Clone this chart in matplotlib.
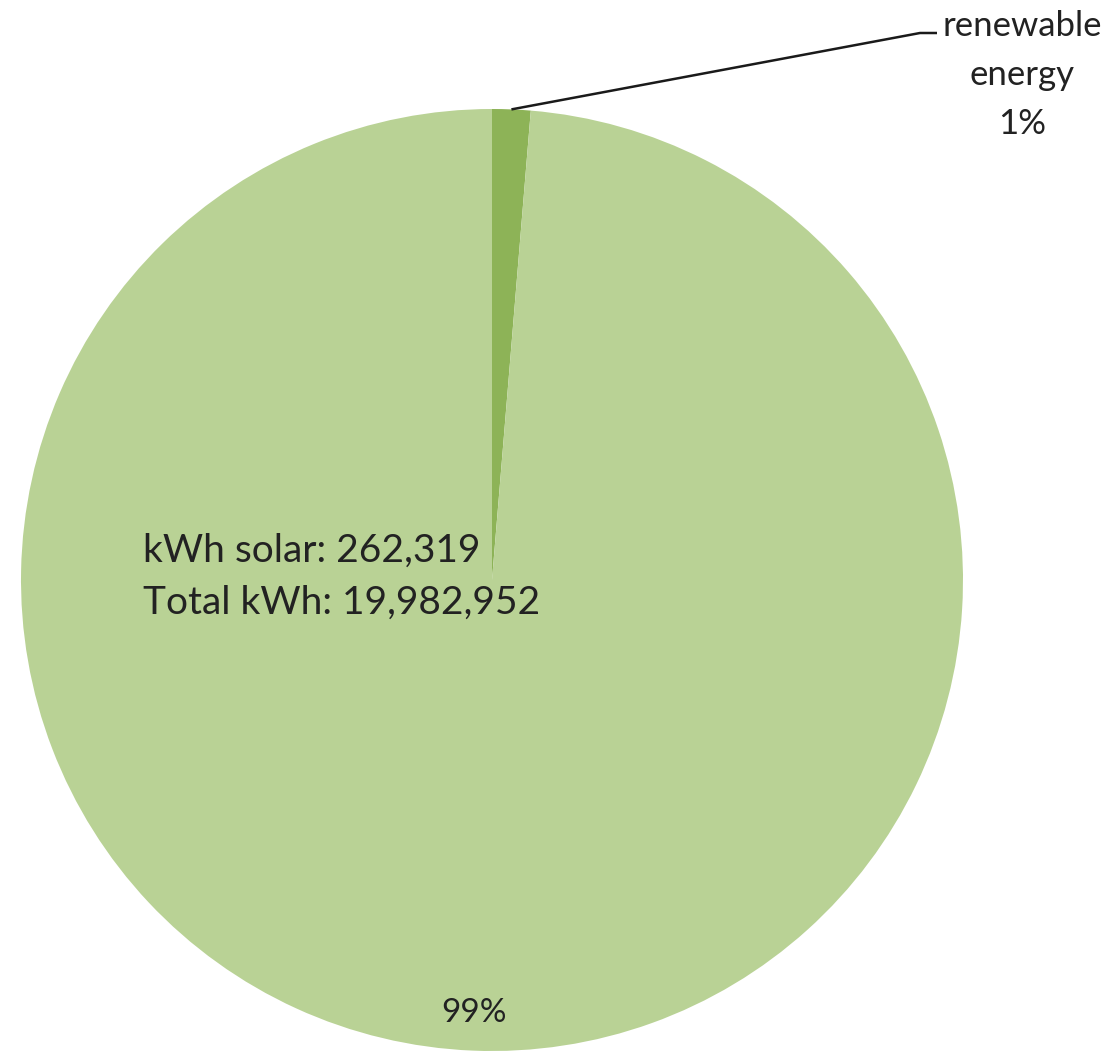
import numpy as np
import matplotlib
matplotlib.use("Agg")
import matplotlib.pyplot as plt

# energy use split: solar vs everything else (kWh)
labels = ["renewable energy", "other"]
kwh_solar = 262319
kwh_total = 19982952
values = [kwh_solar, kwh_total - kwh_solar]
colors = ["#8db357", "#b9d295"]

W, H = 1113, 1057
fig = plt.figure(figsize=(W / 100, H / 100), dpi=100)
ax = fig.add_axes([0, 0, 1, 1])

cx, cy, r = 492, H - 580, 471
wedges, _ = ax.pie(values, colors=colors, startangle=90, counterclock=False,
                   center=(cx, cy), radius=r, wedgeprops=dict(linewidth=0))
ax.set_xlim(0, W)
ax.set_ylim(0, H)
ax.set_aspect("equal")
ax.axis("off")

pcts = [round(100 * v / sum(values)) for v in values]
txt_color = "#222222"
font = "Lato"

# big slice: percentage inside near the rim
w = wedges[1]
mid = np.radians((w.theta1 + w.theta2) / 2)
ax.text(cx + 0.92 * r * np.cos(mid), cy + 0.92 * r * np.sin(mid), f"{pcts[1]}%",
        ha="center", va="center", fontsize=24, color=txt_color, family=font)

# small slice: leader line out to the label
w = wedges[0]
mid = np.radians((w.theta1 + w.theta2) / 2)
x0, y0 = cx + r * np.cos(mid), cy + r * np.sin(mid)
ax.plot([x0, 920, 937], [y0, H - 33, H - 33], color="#1a1a1a", lw=1.8,
        solid_capstyle="butt")
ax.text(1022, H - 10, f"renewable\nenergy\n{pcts[0]}%", ha="center", va="top",
        multialignment="center", fontsize=25, linespacing=1.65,
        color=txt_color, family=font)

ax.text(143, H - 533, f"kWh solar: {kwh_solar:,}\nTotal kWh: {kwh_total:,}",
        ha="left", va="top", fontsize=28, linespacing=1.55,
        color=txt_color, family=font)

fig.savefig("out.png", dpi=100, facecolor="white")
